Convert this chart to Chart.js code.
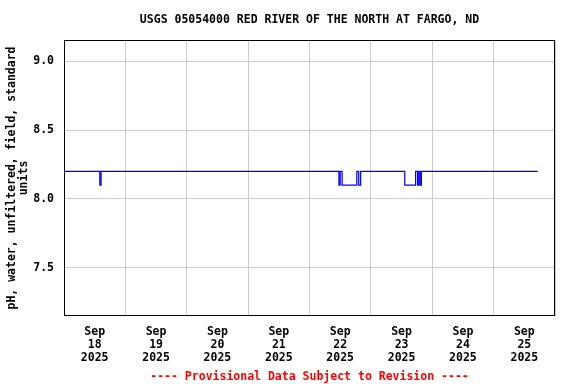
<!DOCTYPE html>
<html>
<head>
<meta charset="utf-8">
<script src="https://cdn.jsdelivr.net/npm/chart.js@4"></script>
<style>
  html, body { margin: 0; padding: 0; background: #fff; }
  #wrap { position: relative; width: 576px; height: 384px; }
  .txt {
    position: absolute; left: 64px; width: 491px; text-align: center;
    font: bold 11.5px "DejaVu Sans Mono", monospace; white-space: pre;
  }
  #title { top: 12px; color: #000; }
  #footer { top: 369px; color: #ff0000; }
</style>
</head>
<body>
<div id="wrap">
  <canvas id="chart" width="576" height="384"></canvas>
  <div id="title" class="txt">USGS 05054000 RED RIVER OF THE NORTH AT FARGO, ND</div>
  <div id="footer" class="txt">---- Provisional Data Subject to Revision ----</div>
</div>
<script>
// pH readings: each entry is the time the value changed to (step series)
const START = "2025-09-18T00:00";
const TIMES = [
  "2025-09-18T00:00", "2025-09-18T14:00", "2025-09-18T14:30",
  "2025-09-22T11:30", "2025-09-22T12:00", "2025-09-22T12:45",
  "2025-09-22T18:30", "2025-09-22T19:15", "2025-09-22T20:00",
  "2025-09-23T13:15", "2025-09-23T17:30", "2025-09-23T18:15",
  "2025-09-23T18:45", "2025-09-23T19:15", "2025-09-23T19:45",
  "2025-09-25T17:15",
];
const PH = [
  8.2, 8.1, 8.2,
  8.1, 8.2, 8.1,
  8.2, 8.1, 8.2,
  8.1, 8.2, 8.1,
  8.2, 8.1, 8.2,
  8.2,
];
const DAY_LABELS = [
  ["Sep", "18", "2025"], ["Sep", "19", "2025"], ["Sep", "20", "2025"], ["Sep", "21", "2025"],
  ["Sep", "22", "2025"], ["Sep", "23", "2025"], ["Sep", "24", "2025"], ["Sep", "25", "2025"],
];
const Y_TICKS = [7.5, 8.0, 8.5, 9.0];
const Y_MIN = 7.149;
const Y_MAX = 9.156;
const Y_TITLE = ["pH, water, unfiltered, field, standard", "units"];

const t0 = Date.parse(START + "Z");
const toDays = (s) => (Date.parse(s + "Z") - t0) / 86400000;

const FONT = { family: "'DejaVu Sans Mono', monospace", size: 11.5, weight: "bold" };

const frame = {
  id: "frame",
  afterDraw(chart) {
    const { ctx, chartArea: a } = chart;
    ctx.save();
    ctx.strokeStyle = "#000";
    ctx.lineWidth = 1;
    ctx.strokeRect(Math.round(a.left) + 0.5, Math.round(a.top) + 0.5,
      Math.round(a.right - a.left) - 1, Math.round(a.bottom - a.top) - 1);
    ctx.restore();
  },
};

new Chart(document.getElementById("chart"), {
  type: "line",
  data: {
    datasets: [
      {
        data: TIMES.map((t, i) => ({ x: toDays(t), y: PH[i] })),
        borderColor: "#0000ff",
        borderWidth: 1.2,
        pointRadius: 0,
        stepped: true,
        fill: false,
      },
    ],
  },
  options: {
    responsive: false,
    animation: false,
    layout: { padding: { left: 0, right: 21, top: 40, bottom: 0 } },
    plugins: { legend: { display: false }, tooltip: { enabled: false } },
    scales: {
      x: {
        type: "linear",
        min: 0,
        max: DAY_LABELS.length,
        afterBuildTicks: (s) => {
          const t = [];
          for (let i = 0; i <= DAY_LABELS.length * 2; i++) t.push({ value: i / 2 });
          s.ticks = t;
        },
        afterFit: (s) => { s.height = 68; },
        grid: {
          drawTicks: false,
          color: (c) => (c.tick && c.tick.value % 1 === 0 ? "#cccccc" : "rgba(0,0,0,0)"),
        },
        border: { display: false },
        ticks: {
          autoSkip: false,
          maxRotation: 0,
          padding: 10,
          color: "#000",
          font: { ...FONT, lineHeight: 13 / 11.5 },
          callback: (v) => (v % 1 === 0.5 ? DAY_LABELS[Math.floor(v)] : ""),
        },
      },
      y: {
        min: Y_MIN,
        max: Y_MAX,
        afterBuildTicks: (s) => { s.ticks = Y_TICKS.map((v) => ({ value: v })); },
        afterFit: (s) => { s.width = 64; },
        grid: { drawTicks: false, color: "#cccccc" },
        border: { display: false },
        ticks: {
          padding: 10,
          color: "#000",
          font: FONT,
          callback: (v) => Number(v).toFixed(1),
        },
        title: {
          display: true,
          text: Y_TITLE,
          color: "#000",
          font: { ...FONT, lineHeight: 12 / 11.5 },
          padding: { top: 6, bottom: 0 },
        },
      },
    },
  },
  plugins: [frame],
});
</script>
</body>
</html>
